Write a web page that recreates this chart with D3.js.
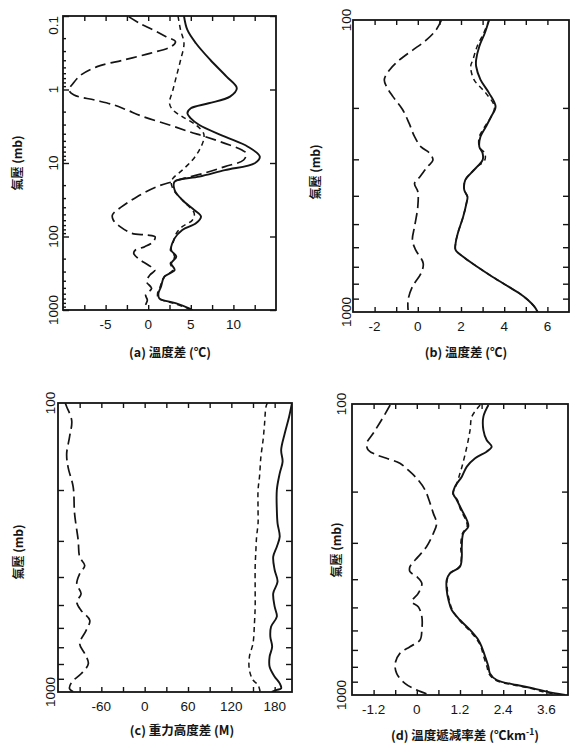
<!DOCTYPE html>
<html><head><meta charset="utf-8">
<script src="https://cdn.jsdelivr.net/npm/d3@7"></script>
<style>body{margin:0;background:#fff}</style>
</head><body>
<svg id="c" width="576" height="750"></svg>
<script>
// ---------------- DATA ----------------
// Panel (a): temperature difference (°C) vs pressure (mb), 0.1–1000 mb
const aSolidP = [0.1,0.155,0.235,0.397,0.668,0.96,1.25,1.54,1.80,2.11,2.47,3.04,4.38,6.0,8.2,10.1,12.5,15.3,17.9,23.3,31.9,43.5,53.7,66.2,81.6,106,153,188,232,286,352,482,593,693,811,948,1000];
const aSolidV = [4.2,4.6,5.6,7.3,9.2,10.4,9.6,7.1,5.0,4.6,5.0,6.0,9.0,11.7,13.1,12.5,9.0,6.0,3.1,3.1,4.0,5.4,6.2,5.6,4.0,3.1,2.7,3.3,2.7,3.1,1.9,1.5,1.2,1.3,3.3,4.8,5.2];
const aLongP = [0.102,0.126,0.155,0.191,0.224,0.261,0.322,0.397,0.489,0.635,0.824,1.016,1.188,1.39,1.625,1.90,2.34,3.04,3.75,4.38,5.40,6.66,7.39,9.10,11.2,13.8,16.2,17.9,21.0,28.7,39.3,51.0,59.6,73.5,90.6,95.4,100.5,117.6,137.5,152.7,169.4,198.2,244.3,285.7,334.1,411.7,507.4,625.3,731,855,1000];
const aLongV = [-2.3,-1,0.6,2.1,3.2,2.7,0.2,-2.9,-6,-7.9,-8.8,-9.3,-8.7,-6.3,-4,-2.5,-0.6,2.5,4.8,6.7,9,11,11.5,11.2,9,6.5,4.2,2.9,1.0,-1.3,-3.1,-4.2,-4.1,-3.3,-1.9,-0.2,0.8,0.6,-0.4,-1.5,-1.7,-1.2,0,0.8,0.2,-0.2,0.4,-0.3,-0.1,-0.3,-0.4];
const aShortP = [0.1,0.155,0.235,0.397,0.668,1.016,1.54,1.90,2.34,3.04,3.95,4.86,6.66,9.10,12.5,16.2,18.9,24.5,35.4,48.4,59.6,73.5,90.6,124,152.7,188,232,286,352,482,593,693,811,948,1000];
const aShortV = [3.5,3.8,4.2,3.8,3.3,2.9,2.5,2.9,4.0,5.6,6.5,6.5,6.0,5.2,4.0,2.9,2.7,3.1,4.4,5.4,5.2,4.0,3.3,2.9,2.6,3.1,2.6,2.9,1.9,1.4,1.1,1.2,3.0,4.6,5.0];

// Panel (b): temperature difference (°C), 100–1000 mb
const bSolidP = [100,111,123,137,144,160,178,198,214,232,251,272,286,302,318,335,353,382,403,425,472,538,582,613,647,700,757,819,863,910,959,1000];
const bSolidV = [3.3,3.1,2.85,2.7,2.7,2.9,3.3,3.6,3.4,3.15,2.9,2.85,3.0,3.0,2.75,2.45,2.2,2.15,2.3,2.25,2.1,1.85,1.75,1.75,2.1,2.75,3.45,4.2,4.7,5.1,5.4,5.55];
const bShortP = [100,111,123,137,144,160,178,198,214,232,251,272,286,302,318,335,353,382,403,425,472,538,582,613,647,700,757,819,863,910,959,1000];
const bShortV = [3.3,3.05,2.75,2.55,2.45,2.6,3.15,3.55,3.4,3.1,2.85,2.85,3.1,3.1,2.75,2.45,2.2,2.15,2.3,2.25,2.1,1.85,1.75,1.75,2.1,2.75,3.45,4.2,4.7,5.1,5.4,5.55];
const bLongP = [100,108,117,127,137,148,160,169,183,203,226,251,272,286,302,318,344,363,387,436,510,567,613,681,737,819,910,984];
const bLongV = [1.1,0.85,0.4,-0.25,-0.85,-1.3,-1.55,-1.45,-1.15,-0.7,-0.4,-0.15,0.15,0.55,0.7,0.45,0.1,-0.15,0,0,-0.15,-0.25,-0.1,0.25,0.15,-0.25,-0.45,-0.45];

// Panel (c): geopotential height difference (M), 100–1000 mb
const cLongP = [100,103,115,131,150,167,195,242,299,341,365,390,422,457,488,522,565,612,680,737,798,865,924,974,1000];
const cLongV = [-110,-108,-101,-104,-108,-106,-99,-97,-92,-90,-83,-90,-94,-88,-94,-88,-76,-81,-90,-83,-78,-88,-101,-104,-98];
const cShortP = [100,103,118,134,153,180,200,235,261,290,323,369,444,507,579,679,755,839,909,946,1000];
const cShortV = [170,168,166,164,161,159,157,157,157,155,154,153,153,153,152,150,145,145,150,157,160];
const cSolidP = [100,111.5,127.3,145.4,159.6,175.2,200,234.6,260.9,290.1,314.2,340.3,378.4,415.2,455.7,506.7,548.8,594.3,643.6,696.9,754.8,817.6,885.1,933.3,971.2,984,1000];
const cSolidV = [204,200,194,189,191,187,183,183,184,187,183,178,180,184,178,180,183,175,174,176.5,173,173,180,187,189,183,176];

// Panel (d): lapse-rate difference (°C/km), 100–1000 mb
const dLongP = [100.8,113.5,126.1,136.5,143.9,149.7,153.7,159.9,170.9,182.5,197.5,219.5,237.6,257.1,278.2,309.3,334.6,362.2,377,392.1,413.3,447.3,477.9,497.2,538.1,597.8,647.1,682.3,719.3,778.6,842.6,912,961.4,1000];
const dLongV = [-0.74,-0.98,-1.21,-1.39,-1.35,-1.11,-0.84,-0.47,-0.19,0.04,0.23,0.37,0.46,0.55,0.46,0.27,0.04,-0.19,-0.19,0,0.14,0.04,-0.14,0.04,0.14,0.14,0.09,-0.19,-0.47,-0.6,-0.56,-0.33,0,0.37];
const dSolidP = [100.8,110.5,122.9,132.9,140.2,145.8,153.7,164.2,177.7,192.3,202.8,213.8,231.4,250.4,263.9,278.2,309.3,334.6,362.2,381.9,402.6,435.7,471.6,510.5,552.4,597.8,647.1,682.3,738.6,799.4,842.6,888.3,924.1,948.6,973.9,1000];
const dSolidV = [1.99,1.85,1.85,1.94,2.08,1.94,1.62,1.39,1.25,1.06,1.01,1.11,1.25,1.39,1.43,1.29,1.25,1.25,1.2,0.92,0.83,0.83,0.88,0.97,1.2,1.48,1.71,1.8,1.9,1.99,2.03,2.22,2.78,3.24,3.61,4.12];
const dShortP = [100.8,110.5,122.9,140.2,159.9,173.1,192.3,202.8,213.8,231.4,250.4,263.9,278.2,309.3,334.6,362.2,381.9,402.6,435.7,471.6,510.5,552.4,597.8,647.1,682.3,738.6,799.4,842.6,888.3,924.1,948.6,973.9,1000];
const dShortV = [1.76,1.53,1.48,1.39,1.28,1.2,1.08,1.0,1.13,1.22,1.36,1.40,1.27,1.22,1.24,1.18,0.92,0.84,0.85,0.9,0.99,1.18,1.45,1.68,1.78,1.86,1.95,2.0,2.18,2.7,3.15,3.5,4.0];

// Axis ticks / labels
const aXTicks = [-7.5,-5,-2.5,0,2.5,5,7.5,10,12.5];
const aXLabels = [-5,0,5,10];
const bXTicks = [-2,-1,0,1,2,3,4,5,6];
const bXLabels = [-2,0,2,4,6];
const cXTicks = [-90,-60,-30,0,30,60,90,120,150,180];
const cXLabels = [-60,0,60,120,180];
const dXTicks = [-1.2,-0.6,0,0.6,1.2,1.8,2.4,3.0,3.6];
const dXLabels = ["-1.2","0","1.2","2.4","3.6"];
const aYMajor = [0.1,1,10,100,1000];
const aYMinor = [0.2,0.3,0.4,0.5,0.6,0.7,0.8,0.9,2,3,4,5,6,7,8,9,20,30,40,50,60,70,80,90,200,300,400,500,600,700,800,900];
const aYLabels = ["0.1","1","10","100","1000"];
const yTicks100 = [200,300,400,500,600,700,800,900];
const yLabels100 = ["100","1000"];
const yTitle = "氣壓 (mb)";

// ---------------- DRAW ----------------
const svg = d3.select('#c');
const ink = '#141414';
const numFont = '"Liberation Sans", Arial, sans-serif';
const cjkFont = '"Noto Sans CJK TC", "Noto Sans CJK SC", sans-serif';

function panel(o){
  const g = svg.append('g');
  const x = d3.scaleLinear().domain(o.xDomain).range([o.left, o.right]);
  const y = d3.scaleLog().domain(o.yDomain).range([o.top, o.bottom]);

  const xb = d3.axisBottom(x).tickValues(o.xTicks).tickSize(-5).tickFormat(() => '');
  const xt = d3.axisTop(x).tickValues(o.xTicks).tickSize(-5).tickFormat(() => '');
  g.append('g').attr('transform', `translate(0,${o.bottom})`).call(xb);
  g.append('g').attr('transform', `translate(0,${o.top})`).call(xt);
  const yl = d3.axisLeft(y).tickValues(o.yMajor).tickSize(-6).tickFormat(() => '');
  const yr = d3.axisRight(y).tickValues(o.yMajor).tickSize(-6).tickFormat(() => '');
  g.append('g').attr('transform', `translate(${o.left},0)`).call(yl);
  g.append('g').attr('transform', `translate(${o.right},0)`).call(yr);
  if (o.yMinor) {
    const ym = d3.axisLeft(y).tickValues(o.yMinor).tickSize(-3).tickFormat(() => '');
    g.append('g').attr('transform', `translate(${o.left},0)`).call(ym);
  }
  g.selectAll('.domain').remove();
  g.selectAll('.tick line').attr('stroke', ink).attr('stroke-width', 1.4);

  g.append('rect').attr('x', o.left).attr('y', o.top)
    .attr('width', o.right - o.left).attr('height', o.bottom - o.top)
    .attr('fill', 'none').attr('stroke', ink).attr('stroke-width', 1.8);

  g.selectAll('.xl').data(o.xLabels).join('text')
    .attr('x', d => x(+d)).attr('y', o.bottom + 19)
    .attr('text-anchor', 'middle')
    .attr('font-family', numFont).attr('font-size', 13.5).attr('fill', ink)
    .text(d => String(d));

  o.yLabels.forEach((lab, i) => {
    const py = y(+lab);
    const anchor = (o.topAnchorEnd && i === 0) ? 'end' : 'middle';
    g.append('text')
      .attr('transform', `translate(${o.yLabX},${py}) rotate(-90)`)
      .attr('text-anchor', anchor).attr('dy', '0.35em')
      .attr('font-family', numFont).attr('font-size', 13.5).attr('fill', ink)
      .text(lab);
  });

  g.append('text')
    .attr('transform', `translate(${o.yTitleX},${o.yTitleY}) rotate(-90)`)
    .attr('text-anchor', 'middle').attr('dy', '0.35em')
    .attr('font-family', cjkFont).attr('font-weight', 'bold').attr('font-size', 12).attr('fill', ink)
    .text(yTitle);

  const t = g.append('text')
    .attr('x', o.titleX).attr('y', o.titleY)
    .attr('text-anchor', 'middle')
    .attr('font-family', cjkFont).attr('font-weight', 'bold').attr('font-size', 12.5).attr('fill', ink);
  t.append('tspan').text(o.title);
  if (o.titleSup) {
    t.append('tspan').attr('dy', -5).attr('font-size', 8.5).text(o.titleSup);
    t.append('tspan').attr('dy', 5).text(o.titleEnd);
  }

  const clipId = 'clip' + o.id;
  svg.append('clipPath').attr('id', clipId).append('rect')
    .attr('x', o.left).attr('y', o.top).attr('width', o.right - o.left).attr('height', o.bottom - o.top);
  const line = d3.line().x(d => x(d[1])).y(d => y(d[0])).curve(d3.curveCatmullRom.alpha(0.5));
  o.series.forEach(s => {
    const pts = s.p.map((p, i) => [p, s.v[i]]);
    g.append('path').attr('d', line(pts))
      .attr('clip-path', `url(#${clipId})`)
      .attr('fill', 'none').attr('stroke', ink)
      .attr('stroke-width', s.w || 1.7)
      .attr('stroke-dasharray', s.dash || null)
      .attr('stroke-linecap', 'butt');
  });
}

const LONG = '11,5', SHORT = '5,4';

panel({id:'a', left:63, right:276, top:16, bottom:310,
  xDomain:[-10,15], yDomain:[0.1,1000],
  xTicks:aXTicks, xLabels:aXLabels, yMajor:aYMajor, yMinor:aYMinor, yLabels:aYLabels,
  yLabX:53, topAnchorEnd:true, yTitleX:18, yTitleY:163,
  title:'(a) 溫度差 (℃)', titleX:170, titleY:357,
  series:[{p:aSolidP, v:aSolidV, w:1.9},{p:aLongP, v:aLongV, dash:LONG},{p:aShortP, v:aShortV, dash:SHORT, w:1.5}]});

panel({id:'b', left:353, right:569, top:20, bottom:312,
  xDomain:[-3,7], yDomain:[100,1000],
  xTicks:bXTicks, xLabels:bXLabels, yMajor:yTicks100, yLabels:yLabels100,
  yLabX:346, yTitleX:316, yTitleY:172,
  title:'(b) 溫度差 (℃)', titleX:466, titleY:357,
  series:[{p:bSolidP, v:bSolidV, w:1.9},{p:bShortP, v:bShortV, dash:SHORT, w:1.5},{p:bLongP, v:bLongV, dash:LONG}]});

panel({id:'c', left:58, right:292, top:403, bottom:692,
  xDomain:[-120,204], yDomain:[100,1000],
  xTicks:cXTicks, xLabels:cXLabels, yMajor:yTicks100, yLabels:yLabels100,
  yLabX:50, yTitleX:19, yTitleY:552,
  title:'(c) 重力高度差 (M)', titleX:182, titleY:735,
  series:[{p:cSolidP, v:cSolidV, w:1.9},{p:cShortP, v:cShortV, dash:SHORT, w:1.5},{p:cLongP, v:cLongV, dash:LONG}]});

panel({id:'d', left:352, right:568, top:404, bottom:695,
  xDomain:[-1.8,4.2], yDomain:[100,1000],
  xTicks:dXTicks, xLabels:dXLabels, yMajor:yTicks100, yLabels:yLabels100,
  yLabX:341, yTitleX:337, yTitleY:550,
  title:'(d) 溫度遞減率差 (℃km', titleSup:'-1', titleEnd:')', titleX:465, titleY:740,
  series:[{p:dSolidP, v:dSolidV, w:1.9},{p:dShortP, v:dShortV, dash:SHORT, w:1.5},{p:dLongP, v:dLongV, dash:LONG}]});
</script>
</body></html>
